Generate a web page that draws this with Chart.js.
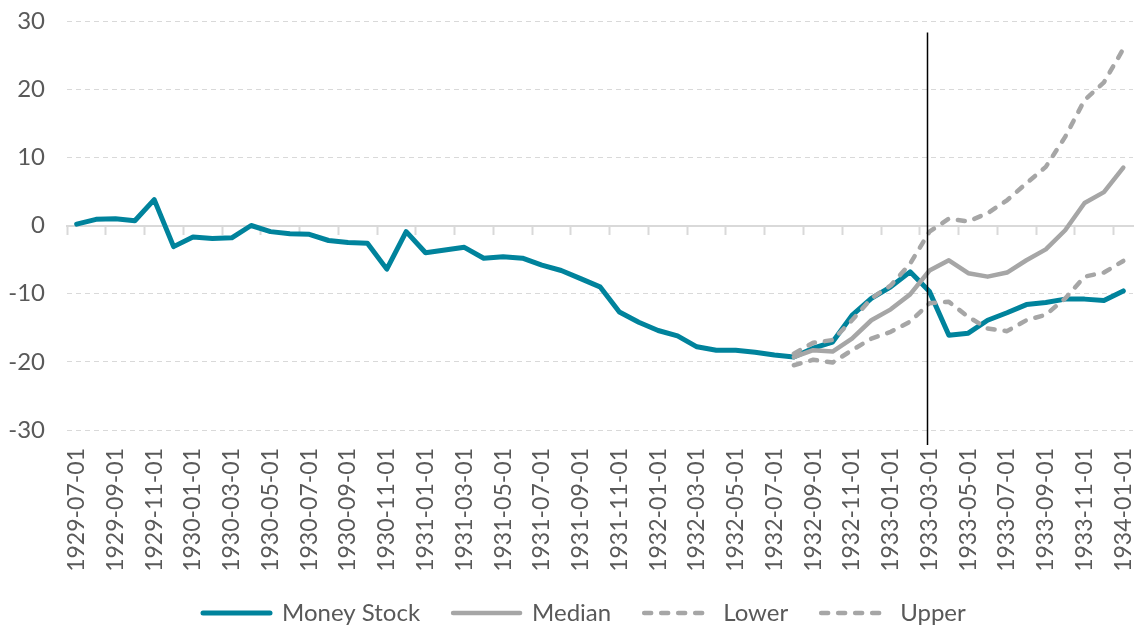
<!DOCTYPE html>
<html>
<head>
<meta charset="utf-8">
<script src="https://cdn.jsdelivr.net/npm/chart.js@4.4.1/dist/chart.umd.min.js"></script>
<style>
  html, body { margin: 0; padding: 0; background: #ffffff; }
  #wrap { width: 1139px; height: 628px; position: relative; }
</style>
</head>
<body>
<div id="wrap"><canvas id="chart"></canvas></div>
<script>
/* ==========================
   Data
   ========================== */
const months = [
  '1929-07-01', '1929-08-01', '1929-09-01', '1929-10-01', '1929-11-01', '1929-12-01',
  '1930-01-01', '1930-02-01', '1930-03-01', '1930-04-01', '1930-05-01', '1930-06-01',
  '1930-07-01', '1930-08-01', '1930-09-01', '1930-10-01', '1930-11-01', '1930-12-01',
  '1931-01-01', '1931-02-01', '1931-03-01', '1931-04-01', '1931-05-01', '1931-06-01',
  '1931-07-01', '1931-08-01', '1931-09-01', '1931-10-01', '1931-11-01', '1931-12-01',
  '1932-01-01', '1932-02-01', '1932-03-01', '1932-04-01', '1932-05-01', '1932-06-01',
  '1932-07-01', '1932-08-01', '1932-09-01', '1932-10-01', '1932-11-01', '1932-12-01',
  '1933-01-01', '1933-02-01', '1933-03-01', '1933-04-01', '1933-05-01', '1933-06-01',
  '1933-07-01', '1933-08-01', '1933-09-01', '1933-10-01', '1933-11-01', '1933-12-01',
  '1934-01-01'
];

const moneyStock = [
  0.2, 0.9, 1.0, 0.7, 3.8, -3.1, -1.7, -1.9, -1.8, 0.0,
  -0.9, -1.2, -1.3, -2.2, -2.5, -2.6, -6.4, -0.9, -4.0, -3.6,
  -3.2, -4.8, -4.6, -4.8, -5.8, -6.6, -7.8, -9.0, -12.7, -14.2,
  -15.4, -16.2, -17.8, -18.3, -18.3, -18.6, -19.0, -19.3, -18.0, -17.1,
  -13.2, -10.7, -9.0, -6.8, -9.7, -16.1, -15.8, -13.9, -12.8, -11.6,
  -11.3, -10.8, -10.8, -11.0, -9.6
];

// projection band starts at 1932-08-01
const bandStart = 37;
const median = [-19.3, -18.3, -18.5, -16.6, -13.9, -12.3, -10.1, -6.6, -5.1, -7.0, -7.5, -6.9, -5.1, -3.5, -0.7, 3.3, 4.9, 8.5];
const lower  = [-20.5, -19.7, -20.1, -18.3, -16.6, -15.6, -14.1, -11.4, -11.2, -13.4, -15.1, -15.5, -13.9, -13.1, -10.7, -7.5, -6.9, -5.2];
const upper  = [-18.8, -17.2, -16.8, -13.9, -10.7, -8.8, -5.6, -0.9, 1.0, 0.6, 1.8, 3.7, 6.2, 8.6, 13.0, 18.4, 21.0, 25.9];

const yTicks = { min: -30, max: 30, step: 10 };

// vertical marker (just before 1933-03)
const eventIndex = 43.85;
const eventTop = 28.3;
const eventBottom = -32.2;

/* ==========================
   Styling
   ========================== */
const TEAL = '#00839c';
const GREY = '#a6a6a6';
const TEXT = '#595959';
const GRID = '#d9d9d9';

const LEGEND_PAD = 33;
const LEGEND_FONT = 24;

Chart.defaults.font.family = 'Lato';

function padBand(values) {
  return new Array(bandStart).fill(null).concat(values);
}

const datasets = [
  { label: 'Money Stock', data: moneyStock, borderColor: TEAL, borderWidth: 5, order: 3 },
  { label: 'Median', data: padBand(median), borderColor: GREY, borderWidth: 4.5, order: 2 },
  { label: 'Lower', data: padBand(lower), borderColor: GREY, borderWidth: 4.5, borderDash: [7, 10], order: 1 },
  { label: 'Upper', data: padBand(upper), borderColor: GREY, borderWidth: 4.5, borderDash: [7, 10], order: 0 }
].map(ds => Object.assign({
  pointRadius: 0, pointHoverRadius: 0, tension: 0, fill: false,
  borderCapStyle: 'round', borderJoinStyle: 'round', backgroundColor: ds.borderColor
}, ds));

/* ==========================
   Plugins
   ========================== */
const eventLine = {
  id: 'eventLine',
  afterDatasetsDraw(chart) {
    const { ctx, scales: { x, y } } = chart;
    const px = Math.round(x.getPixelForValue(eventIndex)) + 0.5;
    ctx.save();
    ctx.strokeStyle = '#000000';
    ctx.lineWidth = 1.5;
    ctx.beginPath();
    ctx.moveTo(px, y.getPixelForValue(eventTop));
    ctx.lineTo(px, y.getPixelForValue(eventBottom));
    ctx.stroke();
    ctx.restore();
  }
};

// the original legend is not centred, place it by hand
const legendShift = {
  id: 'legendShift',
  afterLayout(chart) {
    chart.legend.left = 203 - LEGEND_PAD;
    chart.legend.top = 613 - LEGEND_PAD - LEGEND_FONT / 2;
  }
};

/* ==========================
   Chart
   ========================== */
new Chart(document.getElementById('chart'), {
  type: 'line',
  data: { labels: months, datasets: datasets },
  plugins: [eventLine, legendShift],
  options: {
    responsive: true,
    maintainAspectRatio: false,
    animation: false,
    layout: { padding: { top: 21, right: 6, left: 0, bottom: -29 } },
    plugins: {
      tooltip: { enabled: false },
      legend: {
        position: 'bottom',
        align: 'start',
        labels: {
          usePointStyle: true,
          pointStyle: 'line',
          pointStyleWidth: 67,
          padding: LEGEND_PAD,
          color: TEXT,
          font: { family: 'Lato', size: LEGEND_FONT },
          generateLabels: chart => chart.data.datasets.map((ds, i) => ({
            text: ds.label,
            datasetIndex: i,
            strokeStyle: ds.borderColor,
            fillStyle: ds.borderColor,
            lineWidth: ds.borderWidth,
            lineDash: ds.borderDash || [],
            lineCap: 'round',
            pointStyle: 'line',
            fontColor: TEXT,
            hidden: false
          }))
        }
      }
    },
    scales: {
      x: {
        offset: true,
        grid: { display: false, drawTicks: false },
        border: { display: false },
        ticks: {
          autoSkip: false,
          minRotation: 90,
          maxRotation: 90,
          padding: 18,
          color: TEXT,
          font: { family: 'Lato', size: 23 },
          callback: function (v, i) { return i % 2 === 0 ? this.getLabelForValue(v) : ''; }
        },
        afterFit: s => {
          s.height = 160;
          s.paddingLeft = 0;
          s.paddingRight = 0;
        }
      },
      // zero line with its tick marks
      x0: {
        axis: 'x',
        type: 'category',
        position: { y: 0 },
        offset: true,
        grid: {
          offset: true,
          drawOnChartArea: false,
          tickLength: 8,
          tickWidth: 2,
          tickColor: c => (c.index % 2 === 0 ? GRID : 'rgba(0,0,0,0)')
        },
        border: { color: GRID, width: 2 },
        ticks: { autoSkip: false, callback: () => '' }
      },
      y: {
        min: yTicks.min,
        max: yTicks.max,
        ticks: {
          stepSize: yTicks.step,
          padding: 22,
          color: TEXT,
          font: { family: 'Lato', size: 24 }
        },
        grid: {
          drawTicks: false,
          lineWidth: 1,
          color: c => (c.tick && c.tick.value === 0 ? 'rgba(0,0,0,0)' : GRID)
        },
        border: { display: false, dash: [5, 4] },
        afterFit: s => {
          s.width = 67;
          s.paddingTop = 0;
          s.paddingBottom = 0;
        }
      }
    }
  }
});
</script>
</body>
</html>
